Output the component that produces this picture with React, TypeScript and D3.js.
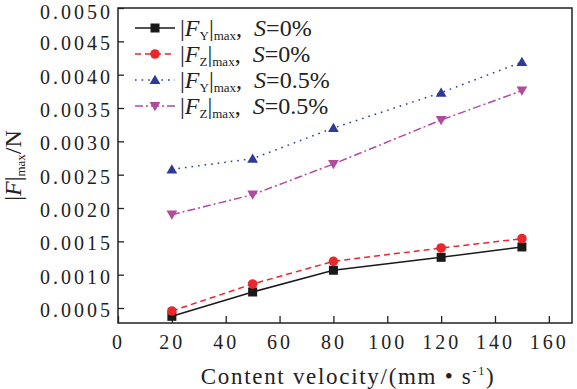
import * as d3 from 'd3';
import React, { useRef, useEffect } from 'react';

// content velocity, mm/s
const velocities = [20, 50, 80, 120, 150];
const fyS0 = [0.000375, 0.00074, 0.001066, 0.00126, 0.001416];
const fzS0 = [0.000455, 0.00086, 0.0012, 0.0014, 0.00154];
const fyS05 = [0.00258, 0.00274, 0.0032, 0.00373, 0.00419];
const fzS05 = [0.0019, 0.0022, 0.00266, 0.00332, 0.00376];

const xTicks = [0, 20, 40, 60, 80, 100, 120, 140, 160];
const yTicks = [0.0005, 0.001, 0.0015, 0.002, 0.0025, 0.003, 0.0035, 0.004, 0.0045, 0.005];

const seriesList = [
  { sub: 'Y', s: '0%', values: fyS0, color: '#1a1a1a', dash: 'none', marker: 'square' },
  { sub: 'Z', s: '0%', values: fzS0, color: '#e8282c', dash: '6,4', marker: 'circle' },
  { sub: 'Y', s: '0.5%', values: fyS05, color: '#2e3a94', dash: '1.6,5', marker: 'triangle' },
  { sub: 'Z', s: '0.5%', values: fzS05, color: '#b24a9e', dash: '8,3,2,3', marker: 'triangleDown' },
];

const W = 577;
const H = 389;
const left = 118;
const right = 572;
const top = 8;
const bottom = 323;
const FONT = '"Liberation Serif", "Times New Roman", serif';

function Marker({ type, x, y, color }: { type: string; x: number; y: number; color: string }) {
  if (type === 'square') return <rect x={x - 4.5} y={y - 4.5} width={9} height={9} fill={color} />;
  if (type === 'circle') return <circle cx={x} cy={y} r={4.8} fill={color} />;
  const sym = d3.symbol().type(d3.symbolTriangle).size(50)();
  return (
    <path
      d={sym || ''}
      fill={color}
      transform={`translate(${x},${y + (type === 'triangle' ? 1 : -1)}) rotate(${type === 'triangleDown' ? 180 : 0})`}
    />
  );
}

export default function App() {
  const axisRef = useRef<SVGGElement | null>(null);

  const xScale = d3.scaleLinear().domain([0, 168.6]).range([left, right]);
  const yScale = d3.scaleLinear().domain([0.000275, 0.005]).range([bottom, top]);

  useEffect(() => {
    const g = d3.select(axisRef.current);
    g.selectAll('*').remove();

    const xAxis = d3
      .axisBottom(xScale)
      .tickValues(xTicks)
      .tickSizeInner(-7)
      .tickSizeOuter(0)
      .tickPadding(12)
      .tickFormat(d => String(d));
    const yAxis = d3
      .axisLeft(yScale)
      .tickValues(yTicks)
      .tickSizeInner(-6)
      .tickSizeOuter(0)
      .tickPadding(5)
      .tickFormat(d => d3.format('.4f')(d as number));

    g.append('g').attr('transform', `translate(0,${bottom})`).call(xAxis);
    g.append('g').attr('transform', `translate(${left},0)`).call(yAxis);

    g.selectAll('.domain').remove();
    g.selectAll('.tick line').attr('stroke', '#222').attr('stroke-width', 1.3);
    g.selectAll('.tick text')
      .attr('fill', '#222')
      .style('font-family', FONT)
      .style('font-size', '20px')
      .style('letter-spacing', '3px');
    // y labels sit a little below their ticks, the top one more so
    g.selectAll('.tick text')
      .filter(function () {
        return (this as SVGTextElement).getAttribute('x') !== null && (this as SVGTextElement).getAttribute('x')!.startsWith('-');
      })
      .attr('dy', (d: any) => (d === 0.005 ? '0.5em' : '0.42em'));
  }, []);

  const line = d3
    .line<number>()
    .x((_, i) => xScale(velocities[i]))
    .y(d => yScale(d));

  return (
    <svg width={W} height={H} style={{ position: 'absolute', left: 0, top: 0, background: '#fff' }}>
      <rect x={0} y={0} width={W} height={H} fill="#fff" />
      <g ref={axisRef}></g>
      <rect x={left} y={top} width={right - left} height={bottom - top} fill="none" stroke="#222" strokeWidth={1.5} />

      {seriesList.map((s, k) => (
        <g key={k}>
          <path d={line(s.values) || ''} fill="none" stroke={s.color} strokeWidth={1.5} strokeDasharray={s.dash} />
          {s.values.map((v, i) => (
            <Marker key={i} type={s.marker} x={xScale(velocities[i])} y={yScale(v)} color={s.color} />
          ))}
        </g>
      ))}

      {/* legend */}
      {seriesList.map((s, k) => {
        const ly = 28 + k * 26;
        return (
          <g key={'lg' + k}>
            <line x1={135} x2={175} y1={ly} y2={ly} stroke={s.color} strokeWidth={1.5} strokeDasharray={s.dash} />
            <Marker type={s.marker} x={155} y={ly} color={s.color} />
            <text x={180} y={ly + 8} fontFamily={FONT} fontSize={24} fill="#222">
              <tspan>|</tspan>
              <tspan fontStyle="italic">F</tspan>
              <tspan fontSize={13} dy={4}>{s.sub}</tspan>
              <tspan dy={-4}>|</tspan>
              <tspan fontSize={13} dy={4}>max</tspan>
              <tspan dy={-4}>, </tspan>
              <tspan fontStyle="italic" dx={6}>S</tspan>
              <tspan>={s.s}</tspan>
            </text>
          </g>
        );
      })}

      {/* axis titles */}
      <text x={348} y={384} textAnchor="middle" fontFamily={FONT} fontSize={23} fill="#222" letterSpacing={1.7}>
        Content velocity/(mm • s
        <tspan fontSize={12} dy={-9}>-1</tspan>
        <tspan dy={9}>)</tspan>
      </text>
      <text
        transform={`translate(21,${(top + bottom) / 2}) rotate(-90)`}
        textAnchor="middle"
        fontFamily={FONT}
        fontSize={24}
        fill="#222"
      >
        <tspan>|</tspan>
        <tspan fontStyle="italic">F</tspan>
        <tspan>|</tspan>
        <tspan fontSize={13} dy={4}>max</tspan>
        <tspan dy={-4}>/N</tspan>
      </text>
    </svg>
  );
}
